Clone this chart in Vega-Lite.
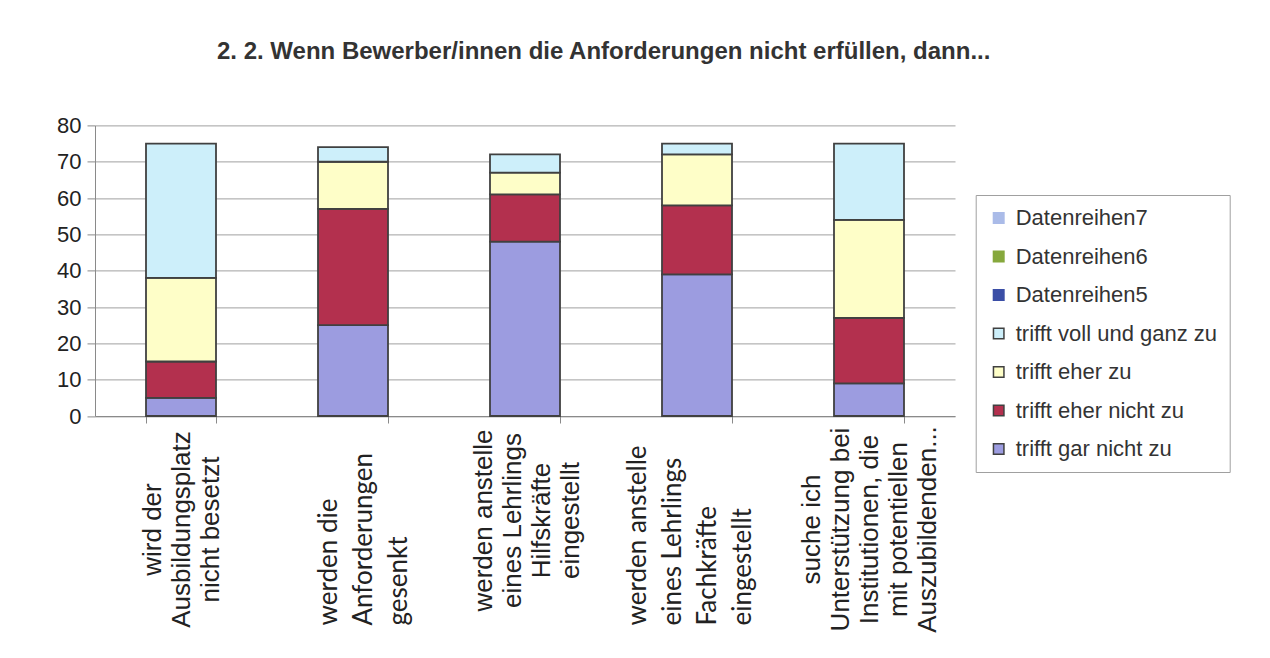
{
  "$schema": "https://vega.github.io/schema/vega-lite/v6.json",
  "autosize": "none",
  "width": 860,
  "height": 290.6,
  "padding": {"left": 95, "top": 125.4, "right": 315, "bottom": 242},
  "background": "white",
  "title": {
    "text": "2. 2. Wenn Bewerber/innen die Anforderungen nicht erfüllen, dann...",
    "anchor": "start",
    "frame": "group",
    "dx": 122,
    "offset": 26,
    "baseline": "bottom",
    "font": "Liberation Sans",
    "fontSize": 24,
    "fontWeight": "bold",
    "color": "#333333"
  },
  "data": {
    "values": [
      {"frage": "wird der|Ausbildungsplatz|nicht besetzt", "serie": "trifft gar nicht zu", "ord": 1, "wert": 5},
      {"frage": "wird der|Ausbildungsplatz|nicht besetzt", "serie": "trifft eher nicht zu", "ord": 2, "wert": 10},
      {"frage": "wird der|Ausbildungsplatz|nicht besetzt", "serie": "trifft eher zu", "ord": 3, "wert": 23},
      {"frage": "wird der|Ausbildungsplatz|nicht besetzt", "serie": "trifft voll und ganz zu", "ord": 4, "wert": 37},
      {"frage": "werden die|Anforderungen|gesenkt", "serie": "trifft gar nicht zu", "ord": 1, "wert": 25},
      {"frage": "werden die|Anforderungen|gesenkt", "serie": "trifft eher nicht zu", "ord": 2, "wert": 32},
      {"frage": "werden die|Anforderungen|gesenkt", "serie": "trifft eher zu", "ord": 3, "wert": 13},
      {"frage": "werden die|Anforderungen|gesenkt", "serie": "trifft voll und ganz zu", "ord": 4, "wert": 4},
      {"frage": "werden anstelle|eines Lehrlings|Hilfskräfte|eingestellt", "serie": "trifft gar nicht zu", "ord": 1, "wert": 48},
      {"frage": "werden anstelle|eines Lehrlings|Hilfskräfte|eingestellt", "serie": "trifft eher nicht zu", "ord": 2, "wert": 13},
      {"frage": "werden anstelle|eines Lehrlings|Hilfskräfte|eingestellt", "serie": "trifft eher zu", "ord": 3, "wert": 6},
      {"frage": "werden anstelle|eines Lehrlings|Hilfskräfte|eingestellt", "serie": "trifft voll und ganz zu", "ord": 4, "wert": 5},
      {"frage": "werden anstelle|eines Lehrlings|Fachkräfte|eingestellt", "serie": "trifft gar nicht zu", "ord": 1, "wert": 39},
      {"frage": "werden anstelle|eines Lehrlings|Fachkräfte|eingestellt", "serie": "trifft eher nicht zu", "ord": 2, "wert": 19},
      {"frage": "werden anstelle|eines Lehrlings|Fachkräfte|eingestellt", "serie": "trifft eher zu", "ord": 3, "wert": 14},
      {"frage": "werden anstelle|eines Lehrlings|Fachkräfte|eingestellt", "serie": "trifft voll und ganz zu", "ord": 4, "wert": 3},
      {"frage": "suche ich|Unterstützung bei|Institutionen, die|mit potentiellen|Auszubildenden...", "serie": "trifft gar nicht zu", "ord": 1, "wert": 9},
      {"frage": "suche ich|Unterstützung bei|Institutionen, die|mit potentiellen|Auszubildenden...", "serie": "trifft eher nicht zu", "ord": 2, "wert": 18},
      {"frage": "suche ich|Unterstützung bei|Institutionen, die|mit potentiellen|Auszubildenden...", "serie": "trifft eher zu", "ord": 3, "wert": 27},
      {"frage": "suche ich|Unterstützung bei|Institutionen, die|mit potentiellen|Auszubildenden...", "serie": "trifft voll und ganz zu", "ord": 4, "wert": 21}
    ]
  },
  "layer": [
    {
      "mark": {"type": "bar", "strokeWidth": 1.8},
      "encoding": {
        "x": {
          "field": "frage",
          "type": "nominal",
          "sort": null,
          "scale": {"paddingInner": 0.593, "paddingOuter": 0.2965},
          "axis": {
            "title": null,
            "labelExpr": "indexof(datum.label, 'suche') >= 0 ? split(datum.label, '|') : (indexof(datum.label, 'wird der') >= 0 ? split('|' + datum.label, '|') : '')",
            "labelAngle": -90,
            "labelBaseline": "middle",
            "labelAlign": "center",
            "labelPadding": 106,
            "labelOffset": -58,
            "labelLimit": 0,
            "labelOverlap": false,
            "labelFont": "Liberation Sans",
            "labelFontSize": 26,
            "labelLineHeight": 29,
            "labelColor": "#222222",
            "tickBand": "extent",
            "tickSize": 7,
            "tickColor": "#8a8a8a",
            "domainColor": "#8a8a8a",
            "grid": false
          }
        },
        "y": {
          "field": "wert",
          "type": "quantitative",
          "stack": "zero",
          "scale": {"domain": [0, 80], "nice": false},
          "axis": {
            "title": null,
            "values": [0, 10, 20, 30, 40, 50, 60, 70, 80],
            "labelFont": "Liberation Sans",
            "labelFontSize": 22,
            "labelColor": "#222222",
            "labelPadding": 6,
            "tickSize": 8,
            "tickColor": "#8a8a8a",
            "domainColor": "#8a8a8a",
            "gridColor": "#a0a0a0",
            "gridWidth": 1
          }
        },
        "color": {
          "field": "serie",
          "type": "nominal",
          "scale": {
            "domain": ["Datenreihen7", "Datenreihen6", "Datenreihen5", "trifft voll und ganz zu", "trifft eher zu", "trifft eher nicht zu", "trifft gar nicht zu"],
            "range": ["#aabbe8", "#86a83c", "#3a4ea6", "#cdeffa", "#fefec8", "#b3304e", "#9c9ce0"]
          },
          "legend": {
            "title": null,
            "orient": "none",
            "legendX": 880.7,
            "legendY": 69.6,
            "symbolType": "square",
            "symbolSize": 110,
            "symbolStrokeWidth": 1.5,
            "labelFont": "Liberation Sans",
            "labelFontSize": 22,
            "labelColor": "#333333",
            "labelOffset": 6,
            "rowPadding": 16.5,
            "padding": 12,
            "strokeColor": "#a0a0a0",
            "fillColor": "white",
            "labelLimit": 0
          }
        },
        "stroke": {
          "field": "serie",
          "type": "nominal",
          "scale": {
            "domain": ["Datenreihen7", "Datenreihen6", "Datenreihen5", "trifft voll und ganz zu", "trifft eher zu", "trifft eher nicht zu", "trifft gar nicht zu"],
            "range": ["#aabbe8", "#86a83c", "#3a4ea6", "#404040", "#404040", "#404040", "#404040"]
          },
          "legend": {
            "title": null,
            "orient": "none",
            "legendX": 880.7,
            "legendY": 69.6,
            "symbolType": "square",
            "symbolSize": 110,
            "symbolStrokeWidth": 1.5,
            "labelFont": "Liberation Sans",
            "labelFontSize": 22,
            "labelColor": "#333333",
            "labelOffset": 6,
            "rowPadding": 16.5,
            "padding": 12,
            "strokeColor": "#a0a0a0",
            "fillColor": "white",
            "labelLimit": 0
          }
        },
        "order": {"field": "ord", "type": "quantitative"}
      }
    },
    {
      "mark": {"type": "point", "opacity": 0},
      "encoding": {
        "x": {
          "field": "frage",
          "type": "nominal",
          "sort": null,
          "scale": {"paddingInner": 0.593, "paddingOuter": 0.2965},
          "axis": {
            "title": null,
            "orient": "bottom",
            "offset": 0,
            "labelExpr": "indexof(datum.label, 'gesenkt') >= 0 ? split('|' + datum.label, '|') : (indexof(datum.label, 'Fachkr') >= 0 ? split(datum.label, '|') : '')",
            "labelAngle": -90,
            "labelBaseline": "middle",
            "labelAlign": "left",
            "labelPadding": 209,
            "labelOffset": -60,
            "labelLimit": 0,
            "labelOverlap": false,
            "labelFont": "Lato",
            "labelFontSize": 26,
            "labelLineHeight": 35,
            "labelColor": "#222222",
            "ticks": false,
            "domain": false,
            "grid": false
          }
        }
      }
    },
    {
      "mark": {"type": "point", "opacity": 0},
      "encoding": {
        "x": {
          "field": "frage",
          "type": "nominal",
          "sort": null,
          "scale": {"paddingInner": 0.593, "paddingOuter": 0.2965},
          "axis": {
            "title": null,
            "orient": "bottom",
            "offset": 0,
            "labelExpr": "indexof(datum.label, 'Hilfskr') >= 0 ? split(datum.label, '|') : ''",
            "labelAngle": -90,
            "labelBaseline": "middle",
            "labelAlign": "center",
            "labelPadding": 104,
            "labelOffset": -42,
            "labelLimit": 0,
            "labelOverlap": false,
            "labelFont": "Liberation Sans",
            "labelFontSize": 26,
            "labelLineHeight": 29,
            "labelColor": "#222222",
            "ticks": false,
            "domain": false,
            "grid": false
          }
        }
      }
    }
  ],
  "resolve": {"scale": {"x": "independent"}, "axis": {"x": "independent"}},
  "config": {"view": {"stroke": null}}
}
